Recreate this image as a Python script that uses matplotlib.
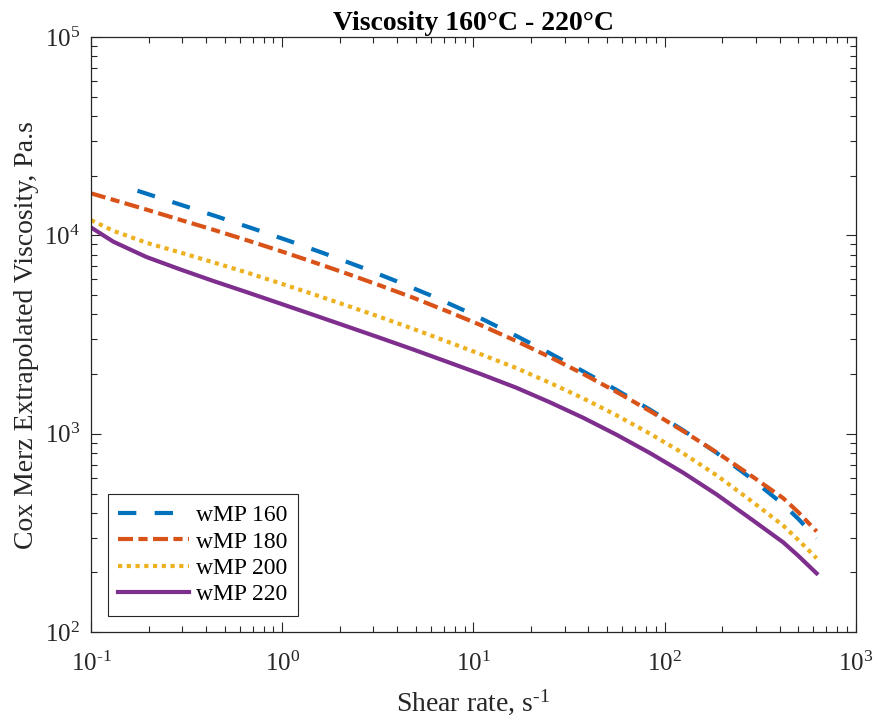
import numpy as np
import matplotlib
matplotlib.use("Agg")
import matplotlib.pyplot as plt
from matplotlib.ticker import LogLocator, FuncFormatter, NullFormatter

plt.rcParams['font.family'] = ['Liberation Serif', 'DejaVu Serif']
plt.rcParams['mathtext.fontset'] = 'custom'
plt.rcParams['mathtext.rm'] = 'Liberation Serif'
plt.rcParams['mathtext.it'] = 'Liberation Serif:italic'
plt.rcParams['mathtext.bf'] = 'Liberation Serif:bold'

## Data (shear rate in 1/s, viscosity in Pa.s)
rate_160 = [0.175, 0.298, 0.459, 0.706, 1.08, 1.66, 2.55, 3.89, 5.93, 9.04,
            11.2, 16.8, 25.1, 37.5, 56.1, 83.8, 125, 187, 279, 417, 500, 624]
visc_160 = [16790, 14220, 12420, 10810, 9400, 8110, 6950, 5916, 5000, 4169,
            3776, 3112, 2547, 2065, 1663, 1324, 1042, 802, 603, 441, 373, 297]

rate = [0.1, 0.131, 0.195, 0.292, 0.437, 0.652, 0.973, 1.45, 2.17, 3.24, 4.84,
        7.24, 10.8, 16.8, 25.1, 37.5, 56.1, 83.8, 125, 187, 279, 417, 500, 624]
visc_180 = [16290, 15100, 13490, 11990, 10670, 9462, 8356, 7345, 6427, 5598, 4853,
            4159, 3548, 2931, 2438, 2004, 1626, 1303, 1033, 807, 622, 474, 403, 322]
visc_200 = [11940, 10540, 9183, 8204, 7311, 6501, 5741, 5058, 4436, 3882, 3381,
            2924, 2529, 2143, 1807, 1510, 1239, 1002, 798, 618, 465, 345, 292, 236]
visc_220 = [10965, 9290, 7780, 6745, 5888, 5176, 4539, 3981, 3483, 3048, 2661,
            2312, 2009, 1706, 1442, 1205, 989, 800, 637, 495, 376, 284, 243, 198]

labels = ['wMP 160', 'wMP 180', 'wMP 200', 'wMP 220']
colors = ['#0072BD', '#D95319', '#EDB120', '#7E2F8E']

fig = plt.figure(figsize=(8.75, 7.25), dpi=100)
ax = fig.add_axes([0.104, 0.128, 0.874, 0.821])

lw = 3.0
ax.plot(rate_160, visc_160, color=colors[0], lw=lw, dashes=(4.4, 4.4),
        dash_capstyle='butt', label=labels[0])
ax.plot(rate, visc_180, color=colors[1], lw=lw, dashes=(3.6, 1.3, 2.2, 1.3),
        dash_capstyle='butt', label=labels[1])
ax.plot(rate, visc_200, color=colors[2], lw=lw, dashes=(1, 1.1),
        dash_capstyle='butt', label=labels[2])
ax.plot(rate, visc_220, color=colors[3], lw=lw, label=labels[3])

ax.set_xscale('log')
ax.set_yscale('log')
ax.set_xlim(0.1, 1000)
ax.set_ylim(100, 100000)

def pow_fmt(v, pos):
    e = int(round(np.log10(v)))
    if e < 0:
        return r'$10^{\text{-}%d}$' % (-e)
    return r'$10^{%d}$' % e

for axis in (ax.xaxis, ax.yaxis):
    axis.set_major_locator(LogLocator(base=10, numticks=10))
    axis.set_minor_locator(LogLocator(base=10, subs=np.arange(2, 10), numticks=10))
    axis.set_major_formatter(FuncFormatter(pow_fmt))
    axis.set_minor_formatter(NullFormatter())

ax.tick_params(which='both', direction='in', top=True, right=True,
               colors='#262626', labelcolor='#262626', width=0.8)
ax.tick_params(which='major', length=7, labelsize=18)
ax.tick_params(which='minor', length=4)
ax.tick_params(axis='x', which='major', pad=14)
ax.tick_params(axis='y', which='major', pad=8)
for sp in ax.spines.values():
    sp.set_color('#262626')
    sp.set_linewidth(0.9)

ax.set_title('Viscosity 160\u00b0C - 220\u00b0C', fontsize=20, fontweight='bold',
             color='black', pad=5)
ax.set_xlabel(r'Shear rate, s$^{\text{-}1}$', fontsize=20, color='#262626', labelpad=8)
ax.set_ylabel('Cox Merz Extrapolated Viscosity, Pa.s', fontsize=20,
              color='#262626', labelpad=4)

leg = ax.legend(loc='lower left', fontsize=17, handlelength=3.0,
                fancybox=False, framealpha=1, edgecolor='#262626',
                borderaxespad=0.7, labelspacing=0.2, handletextpad=0.3,
                borderpad=0.45)
leg.get_frame().set_linewidth(0.8)

fig.savefig('out.png', dpi=100)
